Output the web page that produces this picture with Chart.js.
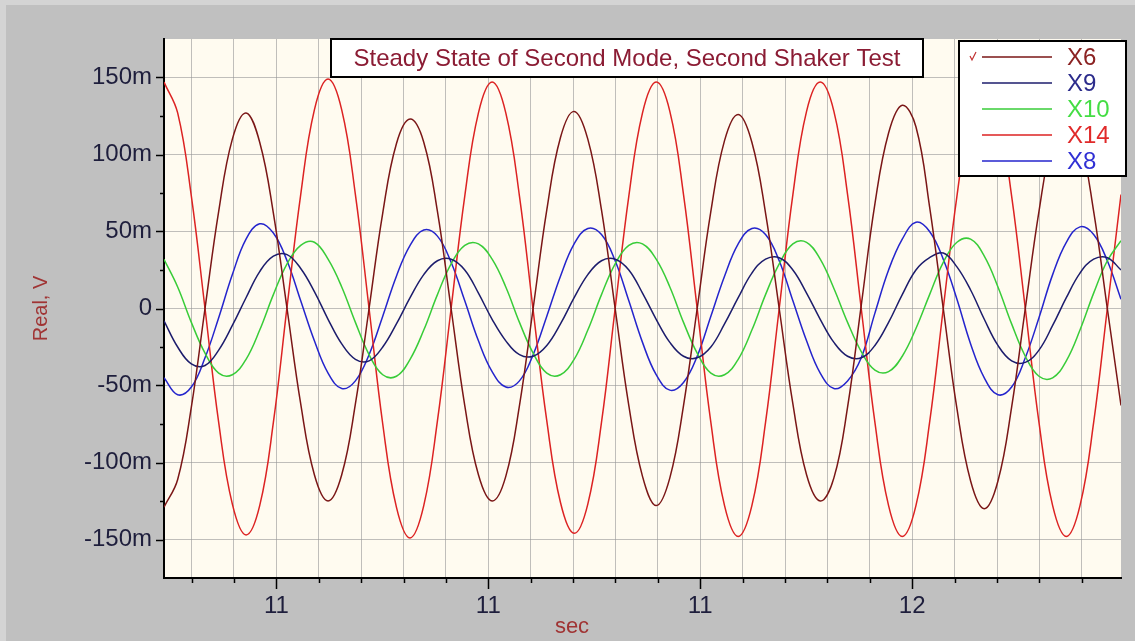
<!DOCTYPE html>
<html>
<head>
<meta charset="utf-8">
<title>Steady State of Second Mode, Second Shaker Test</title>
<script src="https://cdn.jsdelivr.net/npm/chart.js@4.4.1/dist/chart.umd.min.js"></script>
<style>
  html, body { margin: 0; padding: 0; background: #d4d4d4; overflow: hidden; }
  #frame { position: absolute; left: 6px; top: 5px; width: 1129px; height: 636px; background: #c0c0c0; }
  canvas { display: block; }
</style>
</head>
<body>
<div id="frame"><canvas id="shakerChart" width="1129" height="636"></canvas></div>
<script>
// Acquisition clock (seconds)
const sampleStart = 10.894;
const sampleStep = 0.0129;

// Channel readings, millivolts, one value per sample
const x6Values = [
  -129, -111, -64, 0, 63, 110, 127, 108, 62, 0, -62, -108,
  -125, -108, -62, 0, 62, 107, 123, 108, 63, 0, -63, -108,
  -125, -109, -63, 0, 64, 111, 128, 110, 64, 0, -63, -109,
  -128, -110, -63, 0, 63, 109, 126, 108, 62, 0, -62, -108,
  -125, -110, -64, 2, 68, 114, 132, 118, 66, 0, -65, -112,
  -130, -112, -64, 0, 63, 110, 127, 110, 63, 0, -63
];
const x9Values = [
  -8, -25, -36, -37, -27, -11, 7, 24, 34, 35, 26, 11,
  -7, -23, -33, -34, -25, -10, 7, 22, 31, 32, 25, 10,
  -7, -21, -30, -31, -24, -10, 7, 22, 31, 32, 25, 10,
  -7, -22, -31, -32, -25, -10, 7, 23, 32, 33, 25, 10,
  -7, -22, -31, -32, -24, -9, 9, 25, 33, 36, 27, 12,
  -7, -24, -34, -35, -27, -11, 7, 23, 32, 33, 25
];
const x10Values = [
  32, 14, -9, -29, -42, -43, -33, -14, 9, 29, 41, 43,
  32, 14, -9, -30, -43, -44, -33, -14, 9, 29, 41, 42,
  32, 14, -9, -29, -42, -43, -33, -14, 9, 29, 41, 42,
  32, 14, -9, -29, -42, -43, -33, -14, 9, 29, 42, 43,
  32, 13, -9, -28, -40, -41, -31, -13, 9, 30, 43, 45,
  34, 14, -10, -31, -44, -45, -34, -14, 10, 31, 44
];
const x14Values = [
  147, 127, 73, 0, -74, -127, -147, -128, -74, 1, 74, 129,
  149, 129, 74, 0, -75, -129, -149, -128, -73, 0, 73, 127,
  147, 127, 73, -1, -73, -126, -146, -127, -74, 0, 73, 127,
  147, 128, 74, 0, -74, -128, -148, -128, -74, 0, 74, 128,
  147, 128, 74, 0, -74, -128, -148, -128, -74, 0, 73, 127,
  147, 127, 73, 0, -74, -128, -148, -128, -74, 0, 74
];
const x8Values = [
  -45, -56, -51, -32, -6, 22, 45, 55, 49, 31, 5, -21,
  -42, -52, -47, -30, -5, 21, 41, 51, 47, 30, 5, -21,
  -41, -51, -47, -30, -5, 21, 42, 52, 48, 31, 5, -22,
  -43, -53, -48, -31, -5, 21, 42, 52, 48, 31, 5, -21,
  -42, -52, -47, -32, -3, 25, 45, 56, 50, 32, 6, -23,
  -45, -56, -51, -32, -6, 22, 43, 53, 48, 31, 6
];

const seriesNames = ['X6', 'X9', 'X10', 'X14', 'X8'];
const seriesValues = [x6Values, x9Values, x10Values, x14Values, x8Values];
const lineColors = ['#7a1616', '#1c1c6c', '#38cc38', '#dc2222', '#2424cc'];
const legendTextColors = ['#8b2222', '#2c2c8c', '#44dd44', '#e02a2a', '#3030d4'];

const xMajorTicks = [11.0, 11.2, 11.4, 11.6];
const xTickLabels = ['11', '11', '11', '12'];
const xMinorStep = 0.04;
const yMajorTicks = [-150, -100, -50, 0, 50, 100, 150];
const yTickLabels = ['-150m', '-100m', '-50m', '0', '50m', '100m', '150m'];
const yMinorStep = 25;

const chartTitle = 'Steady State of Second Mode, Second Shaker Test';
const xAxisTitle = 'sec';
const yAxisTitle = 'Real, V';

const FONT = "'Liberation Sans', Arial, sans-serif";
const TEXT_DARK = '#1e1e3c';
const TITLE_RED = '#8b1c34';
const AXIS_RED = '#a03434';

const sampleTimes = x6Values.map((_, i) => +(sampleStart + i * sampleStep).toFixed(4));

// every minor tick on x gets a grid line, only the 50m steps on y do
const xAllTicks = [];
for (let v = 10.92; v <= 11.77; v += xMinorStep) xAllTicks.push(Math.round(v * 100) / 100);
const yAllTicks = [];
for (let v = -150; v <= 150; v += yMinorStep) yAllTicks.push(v);

function isMajor(list, value) {
  return list.findIndex(m => Math.abs(m - value) < 1e-6);
}

/**
 * Plot background, axis tick marks, axis titles, boxed title and legend
 */
const plotBackground = {
  id: 'plotBackground',
  beforeDraw(chart) {
    const { ctx, chartArea: a } = chart;
    ctx.save();
    ctx.fillStyle = '#fffbf0';
    ctx.fillRect(a.left, a.top, a.right - a.left, a.bottom - a.top);
    ctx.restore();
  }
};

const plotDecor = {
  id: 'plotDecor',
  afterDraw(chart) {
    const { ctx, chartArea: a } = chart;
    const xs = chart.scales.x, ys = chart.scales.y;
    ctx.save();

    // tick marks: long for labelled ticks, short for the rest
    ctx.strokeStyle = '#000';
    ctx.lineWidth = 1.5;
    ys.ticks.forEach(t => {
      const py = Math.round(ys.getPixelForValue(t.value)) + 0.5;
      const len = isMajor(yMajorTicks, t.value) >= 0 ? 8 : 4;
      ctx.beginPath(); ctx.moveTo(a.left - len, py); ctx.lineTo(a.left, py); ctx.stroke();
    });
    xs.ticks.forEach(t => {
      const px = Math.round(xs.getPixelForValue(t.value)) + 0.5;
      const len = isMajor(xMajorTicks, t.value) >= 0 ? 11 : 5;
      ctx.beginPath(); ctx.moveTo(px, a.bottom); ctx.lineTo(px, a.bottom + len); ctx.stroke();
    });

    // axis titles
    ctx.fillStyle = AXIS_RED;
    ctx.font = '22px ' + FONT;
    ctx.textAlign = 'center';
    ctx.textBaseline = 'middle';
    ctx.fillText(xAxisTitle, 566, 622);
    ctx.font = '20px ' + FONT;
    ctx.save();
    ctx.translate(35, (a.top + a.bottom) / 2);
    ctx.rotate(-Math.PI / 2);
    ctx.fillText(yAxisTitle, 0, 0);
    ctx.restore();

    // boxed title
    ctx.fillStyle = '#ffffff';
    ctx.fillRect(325, 34, 592, 38);
    ctx.strokeStyle = '#000';
    ctx.lineWidth = 2;
    ctx.strokeRect(325, 34, 592, 38);
    ctx.fillStyle = TITLE_RED;
    ctx.font = '24px ' + FONT;
    ctx.fillText(chartTitle, 621, 54);

    // legend box
    const lx = 953, ly = 36, lw = 167, lh = 135;
    ctx.fillStyle = '#ffffff';
    ctx.fillRect(lx, ly, lw, lh);
    ctx.strokeRect(lx, ly, lw, lh);
    ctx.textAlign = 'left';
    ctx.font = '24px ' + FONT;
    chart.data.datasets.forEach((ds, i) => {
      const ry = ly + 16 + i * 26;
      ctx.strokeStyle = ds.borderColor;
      ctx.lineWidth = 1.6;
      ctx.beginPath(); ctx.moveTo(976, ry); ctx.lineTo(1046, ry); ctx.stroke();
      ctx.fillStyle = legendTextColors[i];
      ctx.fillText(ds.label, 1061, ry + 1);
    });
    // check mark on the active trace
    ctx.strokeStyle = '#c03030';
    ctx.lineWidth = 1.2;
    ctx.beginPath();
    ctx.moveTo(964, ly + 15); ctx.lineTo(966, ly + 19); ctx.lineTo(970, ly + 11);
    ctx.stroke();

    ctx.restore();
  }
};

function buildDatasets() {
  return seriesNames.map((name, i) => ({
    label: name,
    data: seriesValues[i].map((v, k) => ({ x: sampleTimes[k], y: v })),
    borderColor: lineColors[i],
    borderWidth: 1.5,
    pointRadius: 0,
    tension: 0.4,
    fill: false
  }));
}

function renderChart() {
  const ctx = document.getElementById('shakerChart').getContext('2d');
  new Chart(ctx, {
    type: 'line',
    data: { datasets: buildDatasets() },
    options: {
      responsive: false,
      animation: false,
      devicePixelRatio: 1,
      layout: { padding: { left: 0, right: 14, top: 34, bottom: 0 } },
      plugins: {
        legend: { display: false },
        title: { display: false },
        tooltip: { enabled: false }
      },
      scales: {
        x: {
          type: 'linear',
          min: 10.894,
          max: 11.797,
          afterBuildTicks: scale => { scale.ticks = xAllTicks.map(v => ({ value: v })); },
          afterFit: scale => { scale.height = 63; },
          border: { color: '#000', width: 2 },
          grid: { color: 'rgba(150,150,150,0.6)', lineWidth: 1, drawTicks: false },
          ticks: {
            autoSkip: false,
            maxRotation: 0,
            padding: 14,
            color: TEXT_DARK,
            font: { family: FONT, size: 24 },
            callback: v => {
              const k = isMajor(xMajorTicks, v);
              return k >= 0 ? xTickLabels[k] : '';
            }
          }
        },
        y: {
          min: -175,
          max: 175,
          afterBuildTicks: scale => { scale.ticks = yAllTicks.map(v => ({ value: v })); },
          afterFit: scale => { scale.width = 158; },
          border: { color: '#000', width: 2 },
          grid: {
            drawTicks: false,
            lineWidth: 1,
            color: c => (c.tick && c.tick.value % 50 === 0) ? 'rgba(150,150,150,0.6)' : 'rgba(0,0,0,0)'
          },
          ticks: {
            autoSkip: false,
            padding: 12,
            color: TEXT_DARK,
            font: { family: FONT, size: 24 },
            callback: v => {
              const k = isMajor(yMajorTicks, v);
              return k >= 0 ? yTickLabels[k] : '';
            }
          }
        }
      }
    },
    plugins: [plotBackground, plotDecor]
  });
}

window.onload = renderChart;
</script>
</body>
</html>
